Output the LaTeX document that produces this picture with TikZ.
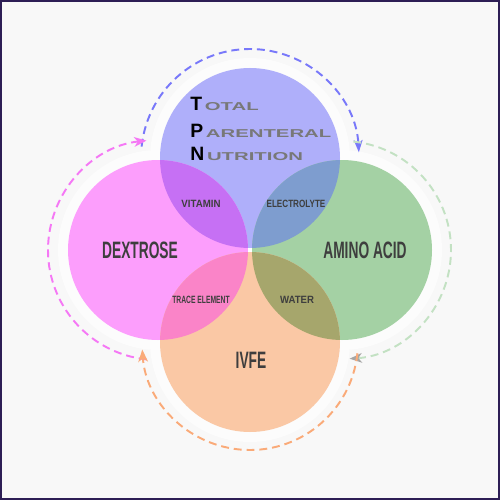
\documentclass[tikz,border=0pt]{standalone}
\usepackage{fontspec}
\setmainfont{Liberation Sans}
\usetikzlibrary{arrows.meta}

\definecolor{fundo}{RGB}{248,248,248}
\definecolor{moldura}{RGB}{45,30,85}
\definecolor{azul}{RGB}{175,175,250}
\definecolor{rosa}{RGB}{252,158,252}
\definecolor{verde}{RGB}{164,209,164}
\definecolor{laranja}{RGB}{250,200,165}
\definecolor{roxo}{RGB}{198,112,244}
\definecolor{azulverde}{RGB}{126,157,207}
\definecolor{rosalaranja}{RGB}{250,132,200}
\definecolor{oliva}{RGB}{166,166,108}
\definecolor{texto}{RGB}{62,62,62}
\definecolor{titulo}{RGB}{120,120,120}
\definecolor{setaazul}{RGB}{120,120,250}
\definecolor{setarosa}{RGB}{245,120,245}
\definecolor{setaverde}{RGB}{195,225,195}
\definecolor{setalaranja}{RGB}{250,170,120}
\definecolor{pontacinza}{RGB}{165,165,165}

\begin{document}
\begin{tikzpicture}[x=0.02cm,y=-0.02cm,
  seta/.style={line width=1.1pt,dash pattern=on 4.5pt off 2.8pt},
  rotulo/.style={text=texto,inner sep=0,font=\bfseries\fontsize{13.5}{14}\selectfont,xscale=0.58},
  interseccao/.style={text=texto,inner sep=0,font=\bfseries\fontsize{6}{7}\selectfont},
  inicial/.style={inner sep=0,anchor=base west,font=\bfseries\fontsize{11}{12}\selectfont},
  resto/.style={inner sep=0,anchor=base west,text=titulo,font=\bfseries\fontsize{6.5}{7}\selectfont,xscale=1.78}]
% fundo e moldura
\fill[fundo] (0,0) rectangle (500,500);
\draw[moldura,line width=1pt] (1,1) rectangle (499,499);

% halo branco
\foreach \cx/\cy in {250/158, 158/250, 342/250, 250/342} {
  \fill[white,opacity=0.6] (\cx,\cy) circle[radius=100];
}

% círculos
\foreach \cor/\cx/\cy in {azul/250/158, rosa/158/250, verde/342/250, laranja/250/342} {
  \fill[\cor] (\cx,\cy) circle[radius=90];
}

% interseções
\begin{scope}
  \clip (250,158) circle[radius=90];
  \fill[roxo] (158,250) circle[radius=90];
  \fill[azulverde] (342,250) circle[radius=90];
\end{scope}
\begin{scope}
  \clip (250,342) circle[radius=90];
  \fill[rosalaranja] (158,250) circle[radius=90];
  \fill[oliva] (342,250) circle[radius=90];
\end{scope}

% setas tracejadas
\draw[seta,setaazul,-{Stealth[length=7pt,width=5pt,inset=2pt]}]
  (250,158) ++(186:109) arc[start angle=186,end angle=357,radius=109];
\draw[seta,setarosa,-{Stealth[length=7pt,width=5.5pt,inset=2pt]}]
  (158,250) ++(96:110) arc[start angle=96,end angle=264,radius=110];
\draw[seta,setaverde,-{Stealth[color=pontacinza,length=7pt,width=5.5pt,inset=2pt]}]
  (342,250) ++(276:109) arc[start angle=276,end angle=446,radius=109];
\draw[seta,setalaranja,-{Stealth[length=7pt,width=5.5pt,inset=2pt]}]
  (250,342) ++(6:108) arc[start angle=6,end angle=176,radius=108];

% rótulos
\node[rotulo] (dextrose) at (140,250) {DEXTROSE};
\node[rotulo] (amino) at (365,250) {AMINO ACID};
\node[rotulo] (ivfe) at (251,360) {IVFE};

\node[interseccao,xscale=0.92] (vitamina) at (201,204) {VITAMIN};
\node[interseccao,xscale=0.77] (eletrolito) at (296,204) {ELECTROLYTE};
\node[interseccao,xscale=0.64] (traco) at (201,300) {TRACE ELEMENT};
\node[interseccao,xscale=0.91] (agua) at (297,300) {WATER};

% título
\node[inicial] (tT) at (190,111) {T};
\node[inicial] (tP) at (190,137) {P};
\node[inicial] (tN) at (190,160) {N};
\node[resto] (otal) at ([xshift=1pt]tT.base east) {OTAL};
\node[resto] (arenteral) at ([xshift=1pt]tP.base east) {ARENTERAL};
\node[resto] (utrition) at ([xshift=1pt]tN.base east) {UTRITION};

\end{tikzpicture}
\end{document}
